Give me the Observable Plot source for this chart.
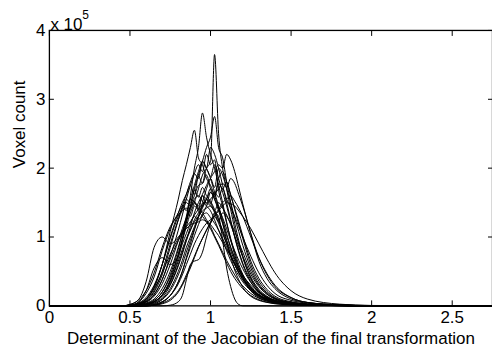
<!DOCTYPE html>
<html><head><meta charset="utf-8">
<script src="https://cdn.jsdelivr.net/npm/d3@7"></script>
<script src="https://cdn.jsdelivr.net/npm/@observablehq/plot@0.6"></script>
<style>
html,body{margin:0;padding:0;background:#fff;overflow:hidden}
svg{font-family:"Liberation Sans",Arial,sans-serif}
</style>
</head><body><div id="chart"></div>
<script>
// Jacobian determinant bins
const xGrid = [0, 0.45,0.5,0.55,0.6,0.65,0.7,0.75, 0.8,0.825,0.85,0.875,0.9,0.925,0.95,0.975, 1.0,1.025,1.05,1.075,1.1,1.125,1.15,1.175, 1.2,1.25,1.3,1.35,1.4, 1.5,1.6,1.8,2.0, 2.75];
// voxel counts (x 10^5), one array per subject
const curveA = [0, 0,0,0.01,0.03,0.08,0.2,0.42, 0.75,0.95,1.15,1.35,1.5,1.7,1.9,2.0, 2.1,3.65,2.5,2.0,1.7,1.4,1.12,0.9, 0.7,0.4,0.22,0.12,0.07, 0.03,0.015,0.005,0, 0];
const curveB = [0, 0,0,0,0.02,0.06,0.16,0.36, 0.7,0.95,1.25,1.6,2.0,2.3,2.8,2.45, 2.2,2.0,1.75,1.5,1.22,0.96,0.74,0.56, 0.42,0.22,0.12,0.07,0.04, 0.02,0.01,0.003,0, 0];
const curveC = [0, 0,0.01,0.03,0.09,0.26,0.6,1.08, 1.55,1.82,2.05,2.3,2.55,2.15,2.05,1.85, 1.75,1.6,1.42,1.2,0.95,0.72,0.52,0.38, 0.27,0.14,0.08,0.05,0.03, 0.015,0.008,0.003,0, 0];
const curveD = [0, 0,0,0,0.02,0.06,0.16,0.38, 0.75,0.98,1.2,1.45,1.7,1.9,2.1,2.3, 2.45,2.75,2.3,2.15,1.8,1.5,1.2,0.95, 0.72,0.42,0.24,0.14,0.08, 0.04,0.02,0.006,0, 0];
const curveE = [0, 0,0,0,0,0.01,0.05,0.15, 0.35,0.5,0.7,0.9,1.1,1.3,1.5,1.7, 1.85,1.95,2.05,2.0,2.2,2.12,1.95,1.72, 1.48,1.05,0.65,0.4,0.25, 0.1,0.05,0.015,0.005, 0];
const curveF = [0, 0,0.02,0.08,0.35,0.85,1.0,0.9, 1.0,1.08,1.25,1.4,1.5,1.45,1.6,1.55, 1.5,1.35,1.2,1.05,0.9,0.75,0.6,0.48, 0.38,0.24,0.15,0.1,0.07, 0.04,0.02,0.01,0, 0];
const curveG = [0, 0,0,0.05,0.22,0.55,0.7,0.6, 0.72,0.9,1.05,1.2,1.32,1.4,1.48,1.5, 1.45,1.38,1.25,1.1,0.95,0.8,0.65,0.52, 0.42,0.26,0.16,0.1,0.06, 0.03,0.015,0.005,0, 0];
const curveH = [0, 0,0,0,0,0,0,0.01, 0.06,0.15,0.38,0.6,0.65,0.67,0.78,1.0, 1.2,1.35,1.3,0.95,0.55,0.28,0.1,0.02, 0,0,0,0,0, 0,0,0,0, 0];
const curveS1 = [0, 0,0.01,0.04,0.12,0.3,0.6,1.0, 1.35,1.5,1.62,1.75,1.62,1.88,1.78,1.9, 1.7,1.55,1.38,1.2,1.02,0.85,0.7,0.56, 0.45,0.28,0.17,0.1,0.06, 0.03,0.015,0.005,0, 0];
const curveS2 = [0, 0,0,0.01,0.04,0.1,0.25,0.5, 0.85,1.05,1.25,1.45,1.6,1.75,1.78,1.98, 1.88,2.05,1.85,1.65,1.45,1.22,1.0,0.8, 0.62,0.38,0.22,0.13,0.08, 0.04,0.02,0.006,0, 0];
const curveS3 = [0, 0,0,0,0.02,0.06,0.15,0.32, 0.6,0.78,0.95,1.1,1.25,1.35,1.45,1.55, 1.48,1.65,1.58,1.7,1.55,1.42,1.3,1.15, 1.0,0.72,0.48,0.3,0.18, 0.08,0.04,0.012,0.003, 0];
const curveS4 = [0, 0,0.02,0.08,0.22,0.48,0.85,1.15, 1.32,1.38,1.42,1.3,1.45,1.38,1.3,1.22, 1.12,1.0,0.88,0.75,0.62,0.5,0.4,0.32, 0.25,0.15,0.09,0.055,0.035, 0.018,0.01,0.004,0, 0];
const curveS5 = [0, 0,0,0.02,0.06,0.16,0.38,0.72, 1.1,1.32,1.55,1.75,1.92,2.05,1.95,2.2, 2.05,2.12,1.68,1.45,1.2,0.98,0.78,0.6, 0.46,0.27,0.16,0.09,0.05, 0.025,0.012,0.004,0, 0];
const curveS6 = [0, 0,0,0,0,0.02,0.06,0.15, 0.32,0.45,0.6,0.75,0.9,1.02,1.12,1.2, 1.25,1.3,1.22,1.35,1.3,1.2,1.08,0.92, 0.78,0.5,0.3,0.17,0.1, 0.04,0.02,0.006,0, 0];
const curveS7 = [0, 0,0,0,0.01,0.04,0.1,0.25, 0.5,0.66,0.85,1.0,1.15,1.3,1.42,1.55, 1.65,1.58,1.78,1.7,1.8,1.6,1.42,1.22, 1.02,0.65,0.4,0.24,0.14, 0.06,0.03,0.01,0.002, 0];
const curveS8 = [0, 0,0.01,0.05,0.18,0.42,0.8,1.12, 1.35,1.45,1.38,1.55,1.5,1.42,1.35,1.25, 1.15,1.02,0.9,0.78,0.66,0.55,0.45,0.36, 0.29,0.18,0.11,0.07,0.045, 0.02,0.01,0.004,0, 0];
const curveS9 = [0, 0,0,0,0.02,0.05,0.12,0.3, 0.58,0.75,0.95,1.15,1.35,1.5,1.62,1.75, 1.85,1.72,2.0,1.9,1.7,1.5,1.28,1.08, 0.88,0.55,0.32,0.19,0.11, 0.05,0.025,0.008,0, 0];
const curveS10 = [0, 0,0,0.01,0.05,0.14,0.32,0.6, 0.95,1.12,1.28,1.42,1.52,1.4,1.6,1.48, 1.65,1.55,1.42,1.28,1.12,0.95,0.8,0.66, 0.54,0.34,0.2,0.12,0.07, 0.035,0.017,0.006,0, 0];
const curveS11 = [0, 0,0,0,0,0.01,0.04,0.1, 0.22,0.32,0.45,0.58,0.72,0.86,0.98,1.1, 1.2,1.3,1.38,1.45,1.5,1.48,1.45,1.38, 1.3,1.12,0.9,0.68,0.48, 0.22,0.1,0.025,0.006, 0];
const curveS12 = [0, 0,0.01,0.03,0.1,0.25,0.48,0.75, 0.98,1.06,1.12,1.18,1.2,1.22,1.25,1.22, 1.18,1.1,1.02,0.92,0.82,0.72,0.62,0.52, 0.44,0.3,0.19,0.12,0.08, 0.04,0.02,0.007,0, 0];
const curveS13 = [0, 0,0,0,0.03,0.08,0.2,0.45, 0.82,1.05,1.3,1.55,1.75,1.95,2.1,2.0, 2.3,2.2,2.0,1.75,1.5,1.25,1.0,0.78, 0.6,0.35,0.2,0.11,0.06, 0.03,0.014,0.005,0, 0];
const curveS14 = [0, 0,0,0,0,0.02,0.06,0.15, 0.35,0.5,0.68,0.85,1.02,1.18,1.32,1.45, 1.55,1.62,1.7,1.78,1.72,1.85,1.78,1.62, 1.45,1.05,0.7,0.45,0.28, 0.12,0.05,0.015,0.004, 0];
const curveS15 = [0, 0,0.01,0.03,0.1,0.28,0.6,0.98, 1.3,1.42,1.5,1.45,1.55,1.6,1.52,1.45, 1.38,1.25,1.1,0.95,0.8,0.66,0.54,0.44, 0.35,0.22,0.13,0.08,0.05, 0.025,0.012,0.004,0, 0];
const curveS16 = [0, 0,0,0,0.02,0.06,0.15,0.35, 0.65,0.82,0.98,1.1,1.22,1.3,1.38,1.42, 1.45,1.38,1.5,1.42,1.32,1.18,1.02,0.86, 0.72,0.46,0.28,0.17,0.1, 0.045,0.02,0.007,0, 0];
const curveS17 = [0, 0,0,0.02,0.07,0.2,0.45,0.85, 1.25,1.45,1.62,1.8,1.92,1.85,2.1,2.0, 1.85,1.65,1.45,1.25,1.05,0.85,0.68,0.54, 0.42,0.25,0.15,0.09,0.05, 0.025,0.012,0.004,0, 0];
const curveS18 = [0, 0,0,0.02,0.08,0.22,0.5,0.9, 1.25,1.4,1.55,1.5,1.68,1.58,1.72,1.6, 1.52,1.4,1.25,1.08,0.9,0.74,0.6,0.48, 0.38,0.23,0.14,0.085,0.05, 0.025,0.012,0.004,0, 0];
const curveS19 = [0, 0,0,0,0.01,0.03,0.09,0.22, 0.45,0.6,0.78,0.95,1.12,1.28,1.45,1.55, 1.7,1.62,1.85,1.95,1.8,1.62,1.4,1.18, 0.98,0.6,0.36,0.21,0.12, 0.05,0.025,0.008,0, 0];
const curveS20 = [0, 0,0,0.02,0.06,0.17,0.38,0.68, 0.95,1.05,1.15,1.22,1.3,1.25,1.32,1.35, 1.28,1.2,1.1,0.98,0.85,0.72,0.6,0.49, 0.4,0.25,0.15,0.09,0.055, 0.025,0.012,0.004,0, 0];
const curveS21 = [0, 0,0,0,0,0.01,0.03,0.08, 0.2,0.3,0.42,0.55,0.7,0.85,0.98,1.1, 1.22,1.32,1.4,1.5,1.55,1.6,1.52,1.42, 1.3,1.0,0.7,0.47,0.3, 0.12,0.05,0.015,0.004, 0];

const allCurves = [curveA,curveB,curveC,curveD,curveE,curveF,curveG,curveH,
  curveS1,curveS2,curveS3,curveS4,curveS5,curveS6,curveS7,curveS8,curveS9,
  curveS10,curveS11,curveS12,curveS13,curveS14,curveS15,curveS16,curveS17,
  curveS18,curveS19,curveS20,curveS21];

const xTicks = [0, 0.5, 1, 1.5, 2, 2.5];
const yTicks = [0, 1, 2, 3, 4];
const xTitle = "Determinant of the Jacobian of the final transformation";
const yTitle = "Voxel count";
const expBase = "x 10";
const expPow = "5";

const rows = [];
allCurves.forEach((vals, k) => vals.forEach((v, i) => rows.push({s: k, x: xGrid[i], y: v})));

const fmt = d => String(d);
const chart = Plot.plot({
  width: 493, height: 350,
  marginLeft: 49, marginRight: 0, marginTop: 30, marginBottom: 44,
  x: {domain: [0, 2.75]},
  y: {domain: [0, 4]},
  style: {fontFamily: '"Liberation Sans", Arial, sans-serif', fontSize: "17px", color: "black", background: "white"},
  marks: [
    Plot.line(rows, {x: "x", y: "y", z: "s", stroke: "black", strokeWidth: 1, curve: "monotone-x"}),
    Plot.frame({stroke: "black", strokeWidth: 1.3}),
    Plot.axisX({ticks: xTicks, tickSize: 0, tickPadding: 5, tickFormat: fmt, label: null, fontSize: 17}),
    Plot.axisX({ticks: xTicks, tickSize: -5, tickFormat: () => "", label: null}),
    Plot.axisX({anchor: "top", ticks: xTicks, tickSize: -5, tickFormat: () => "", label: null}),
    Plot.axisY({ticks: yTicks, tickSize: 0, tickPadding: 4, tickFormat: fmt, label: null, fontSize: 17}),
    Plot.axisY({ticks: yTicks, tickSize: -5, tickFormat: () => "", label: null}),
    Plot.axisY({anchor: "right", ticks: yTicks, tickSize: -5, tickFormat: () => "", label: null}),
    Plot.text([xTitle], {text: d => d, frameAnchor: "bottom", lineAnchor: "bottom", dy: 38, fontSize: 17}),
    Plot.text([yTitle], {text: d => d, frameAnchor: "left", rotate: -90, dx: -30, fontSize: 17}),
    Plot.text([expBase], {text: d => d, frameAnchor: "top-left", textAnchor: "start", lineAnchor: "bottom", dx: 1, dy: 0, fontSize: 17}),
    Plot.text([expPow], {text: d => d, frameAnchor: "top-left", textAnchor: "start", lineAnchor: "bottom", dx: 33, dy: -11, fontSize: 12})
  ]
});
document.getElementById("chart").appendChild(chart);
</script>
</body></html>
